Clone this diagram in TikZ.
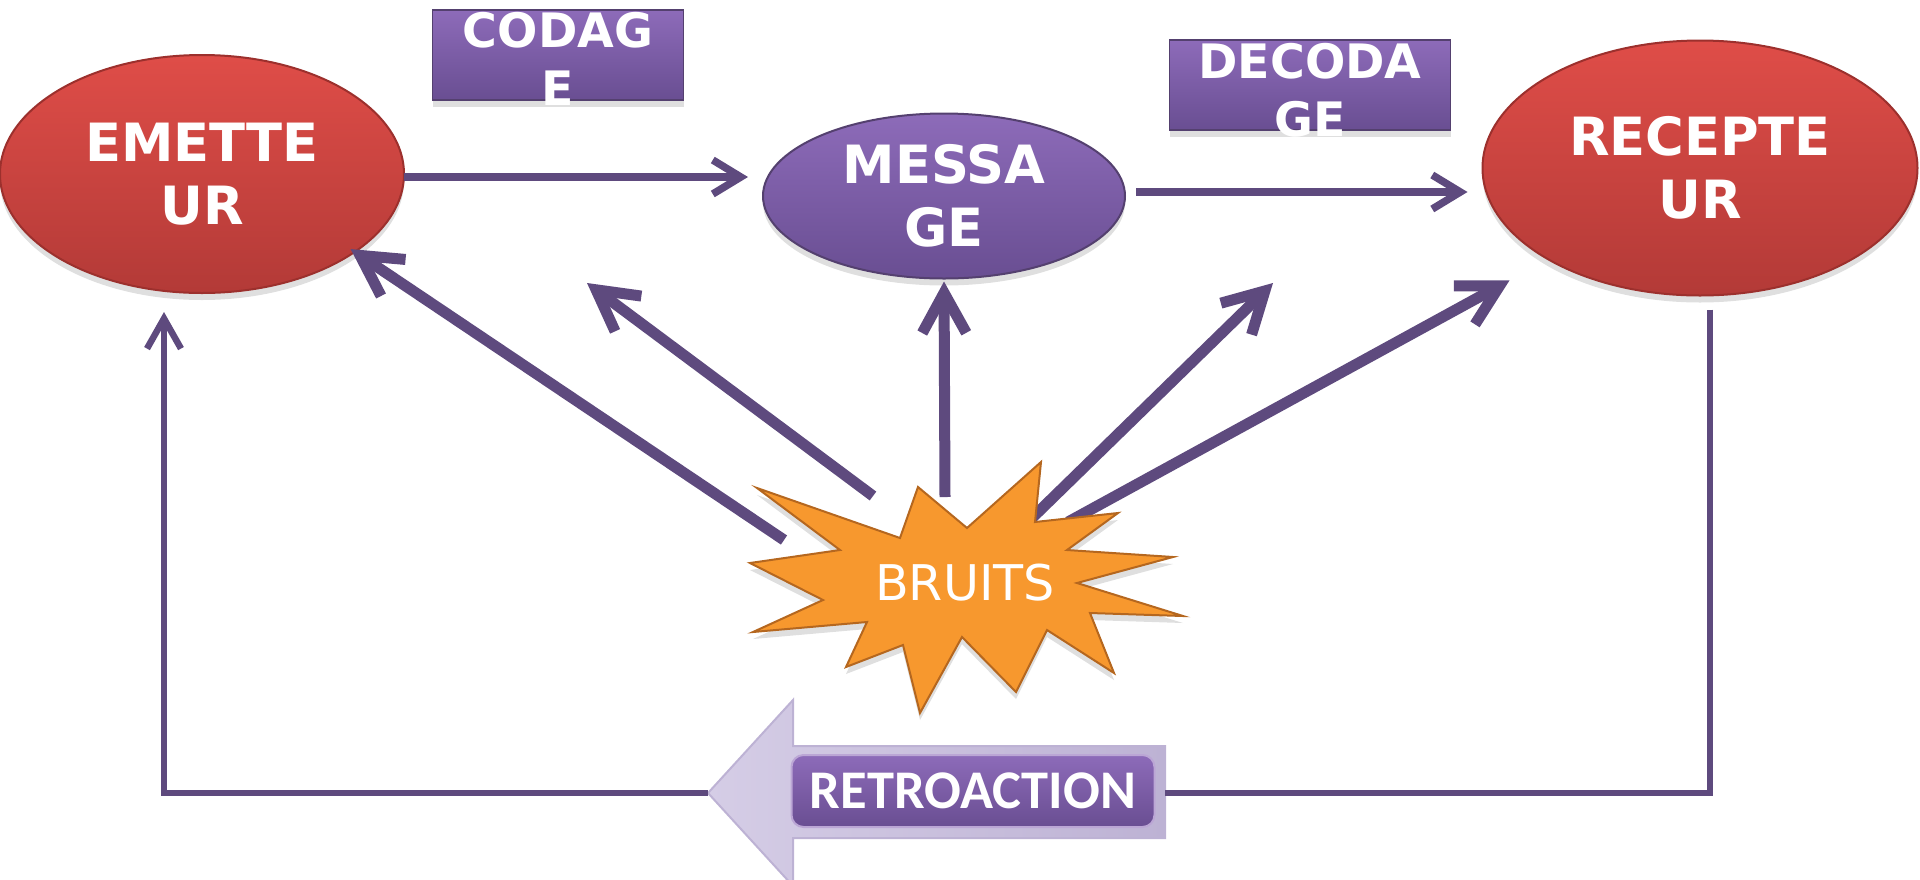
\documentclass[tikz,border=0pt]{standalone}
\usepackage{fontspec}
\setmainfont{DejaVu Sans}
\newfontfamily\retrofont{Carlito}
\usetikzlibrary{arrows.meta,shapes.geometric,shadows}

\definecolor{linepurple}{HTML}{5E4A7E}
\definecolor{redtop}{HTML}{DF4D48}
\definecolor{redbot}{HTML}{B33A37}
\definecolor{redrim}{HTML}{9C302D}
\definecolor{violtop}{HTML}{8D6BB9}
\definecolor{violbot}{HTML}{694E92}
\definecolor{violrim}{HTML}{54406F}
\definecolor{starfill}{HTML}{F7982E}
\definecolor{starrim}{HTML}{B5671F}
\definecolor{lavleft}{HTML}{D5CDE6}
\definecolor{lavright}{HTML}{BDB2D4}

\begin{document}
\begin{tikzpicture}[x=0.1mm,y=-0.1mm,
  every node/.style={outer sep=0pt},
  softshadow/.style={drop shadow={shadow xshift=0mm,shadow yshift=-0.7mm,opacity=0.25}},
  bigtext/.style={text=white,font=\bfseries\fontsize{15}{18}\selectfont,align=center},
  boxtext/.style={text=white,font=\bfseries\fontsize{13.5}{16.5}\selectfont,align=center,inner sep=0pt},
  redoval/.style={ellipse,inner sep=0pt,top color=redtop,bottom color=redbot,draw=redrim,line width=0.2mm,softshadow,bigtext},
  violoval/.style={ellipse,inner sep=0pt,top color=violtop,bottom color=violbot,draw=violrim,line width=0.2mm,softshadow,bigtext},
  codebox/.style={rectangle,inner sep=0pt,top color=violtop,bottom color=violbot,draw=violrim,line width=0.15mm,softshadow},
  flow/.style={draw=linepurple,line width=0.75mm,-{Straight Barb[length=2.8mm,width=3.4mm]}},
  noise/.style={draw=linepurple,line width=1.1mm,-{Straight Barb[length=4mm,width=4.4mm]}},
  back/.style={draw=linepurple,line width=0.65mm},
  burst/.style={fill=starfill,draw=starrim,line width=0.2mm,line join=miter,softshadow},
  retrobox/.style={rectangle,rounded corners=1.2mm,inner sep=0pt,top color=violtop,bottom color=violbot,draw=violtop!60!white,line width=0.2mm,text=white,font=\retrofont\bfseries\fontsize{15.5}{18}\selectfont}]

  \useasboundingbox (0,0) rectangle (1920,879);

  % main chain
  \node[redoval, minimum width=40.4mm, minimum height=23.8mm] (emetteur) at (202,174) {EMETTE\\UR};
  \node[violoval, minimum width=36.2mm, minimum height=16.5mm] (message) at (944,196) {MESSA\\GE};
  \node[redoval, minimum width=43.5mm, minimum height=25.5mm] (recepteur) at (1700,168) {RECEPTE\\UR};

  \node[codebox, minimum width=25.1mm, minimum height=9mm] (codage) at (558,55) {};
  \node[boxtext] (codagetxt) at (558,59) {CODAG\\E};
  \node[codebox, minimum width=28.1mm, minimum height=9mm] (decodage) at (1310,85) {};
  \node[boxtext] (decodagetxt) at (1310,90) {DECODA\\GE};

  \draw[flow, shorten >=1.5mm] (emetteur.east |- 0,177) -- (message.west |- 0,177);
  \draw[flow, shorten <=1.1mm, shorten >=1.5mm] (message.east |- 0,192) -- (recepteur.west |- 0,192);

  % noise
  \coordinate (n1) at (784,540);
  \coordinate (n2) at (873,496);
  \coordinate (n3) at (945,497);
  \coordinate (n4) at (1030,520);
  \coordinate (n5) at (1068,522);
  \coordinate (t2) at (587,283);
  \coordinate (t4) at (1273,283);

  \draw[noise, shorten >=-0.5mm] (n1) -- (emetteur.-27);
  \draw[noise] (n2) -- (t2);
  \draw[noise, shorten >=0.3mm] (n3) -- (message.south);
  \draw[noise] (n4) -- (t4);
  \draw[noise, shorten >=4.4mm] (n5) -- (recepteur.211);

  \draw[burst] (757,488) -- (900,538) -- (918,487) -- (967,528) -- (1041,462)
    -- (1035,522) -- (1118,513) -- (1067,550) -- (1173,557) -- (1077,583)
    -- (1183,616) -- (1090,613) -- (1114,673) -- (1047,630) -- (1016,692)
    -- (962,637) -- (920,713) -- (903,645) -- (846,667) -- (867,622)
    -- (753,632) -- (823,600) -- (750,563) -- (840,550) -- cycle;
  \node[text=white, font=\fontsize{14}{17}\selectfont] (bruits) at (965,583) {BRUITS};

  % feedback
  \coordinate (arrowtip) at (708,793);
  \coordinate (arrowtail) at (1165,793);
  \path[left color=lavleft, right color=lavright, draw=lavright, line width=0.2mm]
    (arrowtip) -- (793,700) -- (793,746) -- (1165,746) -- (1165,838)
    -- (793,838) -- (793,886) -- cycle;
  \node[retrobox, minimum width=36.3mm, minimum height=7.2mm] (retro) at (973,791) {RETROACTION};

  \draw[back, shorten <=1.4mm] ([xshift=1mm]recepteur.south) |- (arrowtail);
  \draw[back, -{Straight Barb[length=3mm,width=3.4mm]}, shorten >=1.9mm]
    (arrowtip) -| ([xshift=-3.8mm]emetteur.south);
\end{tikzpicture}
\end{document}
